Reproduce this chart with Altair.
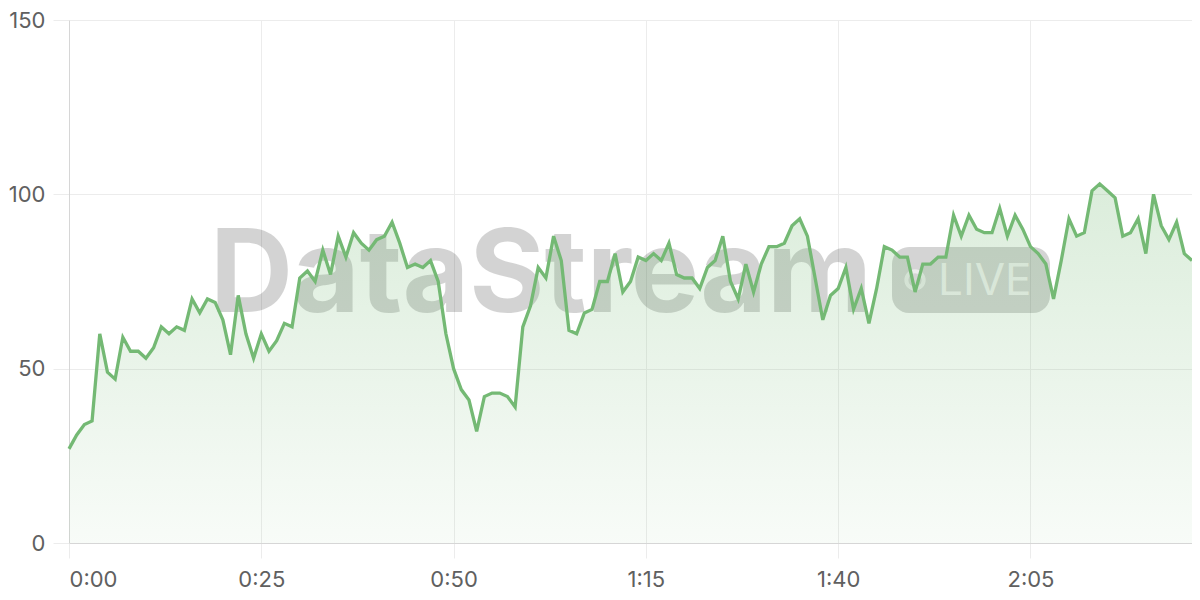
import altair as alt
import pandas as pd

# time in seconds (one sample per second)
seconds = list(range(147))
values = [27, 31, 34, 35, 60, 49, 47, 59, 55, 55,
          53, 56, 62, 60, 62, 61, 70, 66, 70, 69,
          64, 54, 71, 60, 53, 60, 55, 58, 63, 62,
          76, 78, 75, 84, 77, 88, 82, 89, 86, 84,
          87, 88, 92, 86, 79, 80, 79, 81, 75, 60,
          50, 44, 41, 32, 42, 43, 43, 42, 39, 62,
          68, 79, 76, 88, 81, 61, 60, 66, 67, 75,
          75, 83, 72, 75, 82, 81, 83, 81, 86, 77,
          76, 76, 73, 79, 81, 88, 75, 70, 80, 72,
          80, 85, 85, 86, 91, 93, 88, 76, 64, 71,
          73, 79, 67, 73, 63, 73, 85, 84, 82, 82,
          72, 80, 80, 82, 82, 94, 88, 94, 90, 89,
          89, 96, 88, 94, 90, 85, 83, 80, 70, 81,
          93, 88, 89, 101, 103, 101, 99, 88, 89, 93,
          83, 100, 91, 87, 92, 83, 81]

x_ticks = [0, 25, 50, 75, 100, 125]
y_ticks = [0, 50, 100, 150]
watermark = "DataStream"
badge_text = "LIVE"

df = pd.DataFrame({"t": seconds, "v": values})
one = pd.DataFrame({"k": [0]})

LINE = "#74b974"
FONT = "Inter"

x_enc = alt.X("t:Q", scale=alt.Scale(domain=[0, 146], nice=False, zero=False),
              axis=alt.Axis(values=x_ticks, title=None,
                            labelExpr="floor(datum.value/60) + ':' + (datum.value % 60 < 10 ? '0' : '') + (datum.value % 60)"))
y_enc = alt.Y("v:Q", scale=alt.Scale(domain=[0, 150], nice=False),
              axis=alt.Axis(values=y_ticks, title=None))

base = alt.Chart(df)
deco = alt.Chart(one)

wm_text = deco.mark_text(
    text=watermark, font=FONT, fontSize=115, fontWeight=700,
    align="left", baseline="alphabetic", color="#000000", opacity=0.17
).encode(x=alt.value(141), y=alt.value(292))

badge = deco.mark_rect(
    color="#000000", opacity=0.17, cornerRadius=17
).encode(x=alt.value(823), x2=alt.value(981), y=alt.value(227), y2=alt.value(293))

dot = deco.mark_point(
    shape="circle", filled=False, size=300, strokeWidth=4, color="#ffffff", opacity=0.6
).encode(x=alt.value(846), y=alt.value(260))

live = deco.mark_text(
    text=badge_text, font=FONT, fontSize=44, fontWeight=400,
    align="left", baseline="alphabetic", color="#ffffff", opacity=0.7
).encode(x=alt.value(869), y=alt.value(275))

area = base.mark_area(
    interpolate="linear",
    color=alt.Gradient(
        gradient="linear",
        stops=[alt.GradientStop(color="rgba(116,185,116,0.26)", offset=0),
               alt.GradientStop(color="rgba(116,185,116,0.05)", offset=1)],
        x1=1, x2=1, y1=0, y2=1),
).encode(x=x_enc, y=y_enc)

line = base.mark_line(color=LINE, strokeWidth=3.3, interpolate="linear",
                      strokeJoin="miter").encode(x=x_enc, y=y_enc)

chart = alt.layer(wm_text, badge, dot, live, area, line).properties(
    width=1123, height=523,
    autosize="none",
    padding={"left": 61, "top": 12, "right": 0, "bottom": 49},
).configure_view(stroke=None).configure_axis(
    grid=True, gridColor="#ececec", gridWidth=1,
    domain=True, domainColor="#d6d6d6", domainWidth=1,
    ticks=True, tickColor="#ececec", tickWidth=1,
    labelFont=FONT, labelFontSize=22, labelColor="#606060",
).configure_axisY(tickSize=16, labelPadding=8).configure_axisX(
    tickSize=15, labelPadding=11)

chart.save("out.html", embed_options={"renderer": "svg", "actions": False})
